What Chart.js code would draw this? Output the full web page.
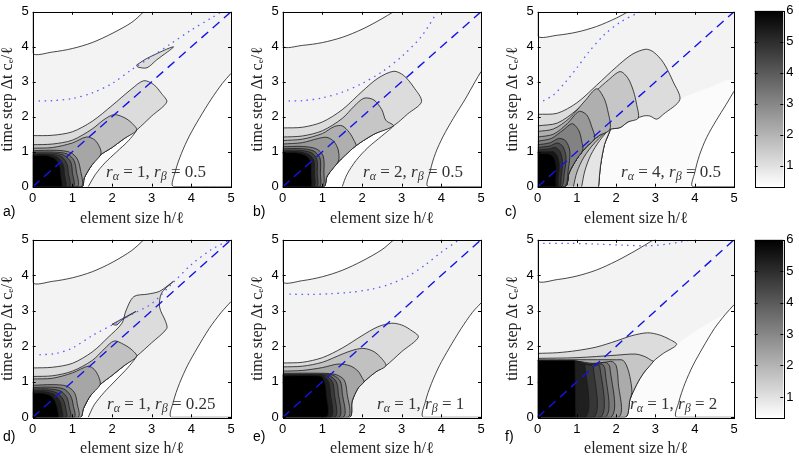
<!DOCTYPE html>
<html><head><meta charset="utf-8">
<script src="https://cdn.jsdelivr.net/npm/chart.js@4.4.1/dist/chart.umd.min.js"></script>
<style>
body{margin:0;background:#fff;}
#wrap{position:relative;width:799px;height:458px;overflow:hidden;}
canvas{position:absolute;}
.tag{position:absolute;font:14px 'Liberation Sans',Arial,sans-serif;color:#000;}
.note{position:absolute;font:17px 'Liberation Serif','Times New Roman',serif;color:#333;white-space:nowrap;}
.note sub{font-size:12px;vertical-align:-3px;line-height:0;}
</style></head>
<body><div id="wrap">
<canvas id="pa" width="241" height="228" style="left:0;top:0"></canvas>
<canvas id="pb" width="241" height="228" style="left:250px;top:0"></canvas>
<canvas id="pc" width="239" height="228" style="left:505px;top:0"></canvas>
<canvas id="cb1" width="49" height="228" style="left:750px;top:0"></canvas>
<canvas id="pd" width="241" height="230" style="left:0;top:228px"></canvas>
<canvas id="pe" width="241" height="230" style="left:250px;top:228px"></canvas>
<canvas id="pf" width="239" height="230" style="left:505px;top:228px"></canvas>
<canvas id="cb2" width="49" height="230" style="left:750px;top:228px"></canvas>

<div class="tag" style="left:3px;top:203px">a)</div>
<div class="tag" style="left:253px;top:203px">b)</div>
<div class="tag" style="left:505px;top:203px">c)</div>
<div class="tag" style="left:3px;top:428px">d)</div>
<div class="tag" style="left:253px;top:428px">e)</div>
<div class="tag" style="left:505px;top:428px">f)</div>

<div class="note" style="left:106px;top:162px"><i>r</i><sub><i>α</i></sub> = 1, <i>r</i><sub><i>β</i></sub> = 0.5</div>
<div class="note" style="left:363px;top:162px"><i>r</i><sub><i>α</i></sub> = 2, <i>r</i><sub><i>β</i></sub> = 0.5</div>
<div class="note" style="left:621px;top:162px"><i>r</i><sub><i>α</i></sub> = 4, <i>r</i><sub><i>β</i></sub> = 0.5</div>
<div class="note" style="left:107px;top:394px"><i>r</i><sub><i>α</i></sub> = 1, <i>r</i><sub><i>β</i></sub> = 0.25</div>
<div class="note" style="left:377px;top:394px"><i>r</i><sub><i>α</i></sub> = 1, <i>r</i><sub><i>β</i></sub> = 1</div>
<div class="note" style="left:630px;top:394px"><i>r</i><sub><i>α</i></sub> = 1, <i>r</i><sub><i>β</i></sub> = 2</div>
</div>
<script>
// colour scale
const cbMin = 0.33, cbMax = 6;
const cbTicks = [1, 2, 3, 4, 5, 6];
const axisTicks = [0, 1, 2, 3, 4, 5];

// shared shapes
const box = [[0,0],[0,5],[5,5],[5,0]];
const diagonal = [[0,0],[5,5]];

// a) r_alpha = 1, r_beta = 0.5
const aTop = [[0,5],[0,3.82],[0.5,3.85],[1,3.95],[1.5,4.12],[2,4.38],[2.5,4.7],[2.8,5]];
const aRight = [[5,0],[3.55,0],[3.6,0.45],[3.75,0.95],[3.95,1.45],[4.2,1.95],[4.5,2.5],[4.78,2.95],[5,3.24]];
const aCres = [[1.24,0],[1.3,0.25],[1.48,0.6],[1.7,0.9],[2,1.12],[2.3,1.37],[2.62,1.62],[2.42,1.32],[2.12,1],[1.82,0.68],[1.58,0.35],[1.44,0.08],[1.4,0]];
const aT1 = [[0,1.46],[0.5,1.47],[1,1.57],[1.5,1.87],[2,2.32],[2.5,2.8],[2.8,3.03],[3.05,2.92],[3.25,2.66],[3.38,2.42],[3,2.02],[2.62,1.62],[2.3,1.37],[2,1.12],[1.7,0.9],[1.48,0.6],[1.3,0.25],[1.24,0],[0,0]];
const aIsland = [[2.62,3.48],[2.9,3.68],[3.55,4],[3.12,3.62],[2.88,3.4],[2.65,3.42],[2.62,3.48]];
const aT2 = [[0,1.2],[0.5,1.22],[1,1.33],[1.5,1.65],[1.8,1.92],[2.05,2.06],[2.3,1.98],[2.5,1.82],[2.62,1.62],[2.3,1.37],[2,1.12],[1.7,0.9],[1.48,0.6],[1.3,0.25],[1.24,0],[0,0]];
const aT3 = [[0,1.1],[0.5,1.12],[1,1.25],[1.35,1.42],[1.55,1.35],[1.68,1.15],[1.72,0.93],[1.48,0.6],[1.3,0.25],[1.24,0],[0,0]];
const aC1 = [[0,1.03],[0.6,1.04],[0.95,0.98],[1.12,0.8],[1.2,0.5],[1.22,0],[0,0]];
const aC2 = [[0,0.99],[0.55,0.99],[0.88,0.93],[1.04,0.75],[1.1,0.45],[1.12,0],[0,0]];
const aC3 = [[0,0.96],[0.5,0.96],[0.8,0.89],[0.96,0.7],[1,0.4],[1.02,0],[0,0]];
const aC4 = [[0,0.93],[0.45,0.93],[0.72,0.86],[0.86,0.66],[0.9,0.38],[0.92,0],[0,0]];
const aC5 = [[0,0.91],[0.4,0.91],[0.64,0.83],[0.77,0.62],[0.8,0.35],[0.82,0],[0,0]];
const aC6 = [[0,0.89],[0.35,0.89],[0.56,0.8],[0.68,0.6],[0.71,0.3],[0.72,0],[0,0]];
const aDots = [[0.15,2.45],[0.5,2.46],[1,2.52],[1.5,2.68],[2,2.95],[2.5,3.35],[3,3.72],[3.5,4.1],[4,4.48],[4.5,4.82],[4.76,5]];
const aShapes = [box, aTop, aRight, aCres, aT1, aIsland, aT2, aT3, aC1, aC2, aC3, aC4, aC5, aC6];
const aLevels = [0.6, 0.33, 0.33, 0.33, 1.1, 1.1, 1.7, 2.3, 2.9, 3.5, 4.1, 4.7, 5.3, 6];

// b) r_alpha = 2, r_beta = 0.5
const bTop = [[0,5],[0,4.02],[0.5,4.04],[1,4.12],[1.5,4.27],[2,4.5],[2.5,4.8],[2.79,5]];
const bRight = [[5,0],[3.67,0],[3.72,0.45],[3.85,0.95],[4.05,1.45],[4.3,1.95],[4.6,2.5],[4.85,3],[5,3.29]];
const bCres = [[1.03,0],[1.12,0.3],[1.38,0.68],[1.8,1.13],[2.3,1.5],[2.79,1.74],[2.5,1.45],[2.15,1.12],[1.85,0.75],[1.62,0.35],[1.5,0]];
const bT1 = [[0,1.68],[0.5,1.7],[1,1.85],[1.5,2.2],[2,2.72],[2.4,3.1],[2.8,3.3],[3.05,3.18],[3.3,2.85],[3.5,2.43],[3.15,2.08],[2.79,1.74],[2.3,1.5],[1.8,1.13],[1.38,0.68],[1.12,0.3],[1.03,0],[0,0]];
const bT2 = [[0,1.42],[0.5,1.45],[1,1.6],[1.5,1.95],[1.8,2.3],[2.05,2.53],[2.3,2.48],[2.5,2.2],[2.6,1.9],[2.79,1.74],[2.3,1.5],[1.8,1.13],[1.38,0.68],[1.12,0.3],[1.03,0],[0,0]];
const bT3 = [[0,1.32],[0.5,1.36],[1,1.52],[1.3,1.72],[1.5,1.74],[1.68,1.55],[1.8,1.32],[1.85,1.18],[1.8,1.13],[1.38,0.68],[1.12,0.3],[1.03,0],[0,0]];
const bT4 = [[0,1.22],[0.5,1.26],[0.9,1.38],[1.12,1.41],[1.3,1.28],[1.4,1.05],[1.42,0.8],[1.38,0.68],[1.12,0.3],[1.03,0],[0,0]];
const bC1 = [[0,1.14],[0.5,1.15],[0.85,1.08],[1.02,0.88],[1.04,0.45],[0.99,0],[0,0]];
const bC2 = [[0,1.08],[0.45,1.09],[0.78,1.02],[0.94,0.82],[0.95,0.4],[0.92,0],[0,0]];
const bC3 = [[0,1.04],[0.42,1.04],[0.72,0.97],[0.86,0.78],[0.87,0.4],[0.85,0],[0,0]];
const bC4 = [[0,1],[0.4,1],[0.66,0.92],[0.79,0.74],[0.8,0.38],[0.78,0],[0,0]];
const bC5 = [[0,0.97],[0.35,0.97],[0.6,0.88],[0.71,0.7],[0.72,0.35],[0.7,0],[0,0]];
const bDots = [[0.15,2.45],[0.5,2.46],[1,2.54],[1.5,2.7],[2,2.95],[2.5,3.28],[3,3.72],[3.5,4.3],[3.9,5]];
const bShapes = [box, bTop, bRight, bCres, bT1, bT2, bT3, bT4, bC1, bC2, bC3, bC4, bC5];
const bLevels = [0.6, 0.33, 0.33, 0.33, 1.1, 1.6, 2.1, 2.6, 3.2, 3.9, 4.6, 5.3, 6];

// c) r_alpha = 4, r_beta = 0.5
const cTop = [[0,5],[0,4.3],[0.5,4.33],[1,4.42],[1.5,4.58],[2,4.82],[2.3,5]];
const cRight = [[5,0],[3.95,0],[4,0.4],[4.12,0.9],[4.3,1.4],[4.55,1.9],[4.8,2.35],[5,2.73]];
const cUnder = [[1.55,0],[1.6,0.6],[1.7,1.2],[1.84,1.64],[2.1,1.69],[2.3,1.85],[2.69,2.02],[2.86,2.02],[3.03,1.93],[3.2,2.07],[3.62,2.49],[4.3,2.8],[5,3],[5,0]];
const cK1 = [[0.7,0],[0.8,0.4],[1,0.8],[1.25,1.15],[1.55,1.45],[1.84,1.64],[1.7,1.2],[1.6,0.6],[1.55,0]];
const cK2 = [[0.91,0],[1,0.42],[1.18,0.85],[1.45,1.25],[1.84,1.64],[1.7,1.2],[1.6,0.6],[1.55,0]];
const cK3 = [[1.12,0],[1.2,0.45],[1.35,0.9],[1.58,1.32],[1.84,1.64],[1.7,1.2],[1.6,0.6],[1.55,0]];
const cT1 = [[0,2.07],[0.5,2.1],[1,2.4],[1.5,2.9],[2,3.42],[2.4,3.78],[2.75,3.93],[2.95,3.85],[3.2,3.55],[3.45,3],[3.62,2.49],[3.2,2.07],[3.03,1.93],[2.86,2.02],[2.69,2.02],[2.3,1.85],[2.1,1.69],[1.84,1.64],[1.55,1.45],[1.25,1.15],[1,0.8],[0.8,0.4],[0.7,0],[0,0]];
const cT2 = [[0,1.74],[0.5,1.82],[1,2.2],[1.5,2.75],[1.8,3.05],[2.1,3.29],[2.3,3.1],[2.44,2.73],[2.52,2.35],[2.56,1.96],[2.3,1.85],[2.1,1.69],[1.84,1.64],[1.55,1.45],[1.25,1.15],[1,0.8],[0.8,0.4],[0.7,0],[0,0]];
const cT3 = [[0,1.58],[0.4,1.65],[0.8,1.95],[1.2,2.45],[1.5,2.8],[1.68,2.55],[1.78,2.2],[1.84,1.64],[1.55,1.45],[1.25,1.15],[1,0.8],[0.8,0.4],[0.7,0],[0,0]];
const cT4 = [[0,1.42],[0.4,1.5],[0.75,1.8],[1.05,2.15],[1.25,2.05],[1.38,1.7],[1.45,1.38],[1.25,1.15],[1,0.8],[0.8,0.4],[0.7,0],[0,0]];
const cT5 = [[0,1.3],[0.35,1.38],[0.65,1.62],[0.88,1.8],[1.05,1.6],[1.12,1.3],[1.15,1.05],[1,0.8],[0.8,0.4],[0.7,0],[0,0]];
const cC1 = [[0,1.2],[0.3,1.25],[0.55,1.38],[0.72,1.3],[0.82,1],[0.78,0.5],[0.68,0],[0,0]];
const cC2 = [[0,1.12],[0.3,1.16],[0.5,1.25],[0.64,1.15],[0.72,0.85],[0.68,0.4],[0.6,0],[0,0]];
const cC3 = [[0,1.05],[0.28,1.08],[0.45,1.12],[0.57,1],[0.63,0.72],[0.6,0.3],[0.55,0],[0,0]];
const cC4 = [[0,1],[0.25,1],[0.4,1],[0.5,0.88],[0.55,0.6],[0.52,0.25],[0.5,0],[0,0]];
const cC5 = [[0,0.95],[0.22,0.95],[0.36,0.9],[0.44,0.76],[0.48,0.5],[0.46,0.2],[0.45,0],[0,0]];
const cDots = [[0.14,2.45],[0.4,2.62],[0.7,2.98],[1,3.4],[1.3,3.85],[1.7,4.35],[2.1,4.7],[2.6,5]];
const cShapes = [box, cUnder, cRight, cK1, cK2, cK3, cT1, cT2, cT3, cT4, cT5, cC1, cC2, cC3, cC4, cC5, cTop];
const cLevels = [0.6, 0.42, 0.33, 2.0, 1.4, 0.9, 1.1, 1.6, 2.1, 2.6, 3.1, 3.7, 4.3, 4.9, 5.5, 6, 0.33];

// d) r_alpha = 1, r_beta = 0.25
const dTop = [[0,5],[0,3.8],[0.5,3.83],[1,3.93],[1.5,4.1],[2,4.36],[2.5,4.7],[2.8,5]];
const dRight = [[5,0],[3.5,0],[3.55,0.45],[3.7,0.95],[3.9,1.45],[4.15,1.95],[4.45,2.5],[4.75,2.95],[5,3.26]];
const dCres = [[1.2,0],[1.28,0.25],[1.45,0.6],[1.7,0.92],[2,1.18],[2.3,1.45],[2.62,1.72],[2.4,1.4],[2.1,1.05],[1.8,0.7],[1.55,0.35],[1.42,0.05],[1.4,0]];
const dT1 = [[0,1.39],[0.5,1.41],[1,1.52],[1.5,1.84],[1.9,2.25],[2.25,2.65],[2.35,3],[2.55,3.4],[2.9,3.47],[3.2,3.55],[3.55,3.83],[3.25,3.5],[3.2,3.1],[3.35,2.7],[3.38,2.5],[3,2.1],[2.62,1.72],[2.3,1.45],[2,1.18],[1.7,0.92],[1.45,0.6],[1.28,0.25],[1.2,0],[0,0]];
const dIsland = [[2,2.62],[2.6,2.98],[2.25,2.74],[2.12,2.6],[2,2.62]];
const dT2 = [[0,1.15],[0.5,1.17],[1,1.3],[1.5,1.6],[1.8,1.92],[2.05,2.15],[2.3,2.05],[2.5,1.9],[2.62,1.72],[2.3,1.45],[2,1.18],[1.7,0.92],[1.45,0.6],[1.28,0.25],[1.2,0],[0,0]];
const dT3 = [[0,1.08],[0.5,1.1],[1,1.25],[1.4,1.44],[1.55,1.35],[1.66,1.15],[1.7,0.92],[1.45,0.6],[1.28,0.25],[1.2,0],[0,0]];
const dC1 = [[0,0.9],[0.5,0.92],[0.85,0.88],[1.05,0.7],[1.12,0.4],[1.14,0],[0,0]];
const dC2 = [[0,0.84],[0.45,0.85],[0.78,0.8],[0.95,0.62],[1.02,0.35],[1.04,0],[0,0]];
const dC3 = [[0,0.8],[0.4,0.8],[0.7,0.74],[0.86,0.56],[0.92,0.3],[0.94,0],[0,0]];
const dC4 = [[0,0.76],[0.35,0.76],[0.62,0.68],[0.77,0.5],[0.83,0.26],[0.84,0],[0,0]];
const dC5 = [[0,0.72],[0.3,0.72],[0.54,0.64],[0.68,0.46],[0.73,0.24],[0.74,0],[0,0]];
const dC6 = [[0,0.68],[0.25,0.68],[0.46,0.6],[0.58,0.42],[0.63,0.2],[0.64,0],[0,0]];
const dDots = [[0.17,1.76],[0.6,1.8],[1,1.95],[1.5,2.3],[2,2.6],[2.5,2.9],[3,3.2],[3.5,3.75],[4,4.3],[4.5,4.72],[4.97,5]];
const dShapes = [box, dTop, dRight, dCres, dT1, dIsland, dT2, dT3, dC1, dC2, dC3, dC4, dC5, dC6];
const dLevels = [0.6, 0.33, 0.33, 0.33, 1.1, 1.7, 1.7, 2.3, 2.9, 3.5, 4.1, 4.7, 5.3, 6];

// e) r_alpha = 1, r_beta = 1
const eTop = [[0,5],[0,3.82],[0.5,3.85],[1,3.96],[1.5,4.14],[2,4.4],[2.5,4.72],[2.8,5]];
const eRight = [[5,0],[3.55,0],[3.6,0.45],[3.75,0.95],[3.95,1.45],[4.2,1.95],[4.5,2.5],[4.78,2.95],[5,3.22]];
const eT1 = [[0,1.53],[0.5,1.55],[1,1.68],[1.5,1.95],[2,2.3],[2.4,2.55],[2.75,2.65],[3,2.6],[3.2,2.48],[3.42,2.26],[3,1.85],[2.6,1.45],[2.35,1.28],[2.1,1.05],[1.9,0.82],[1.75,0.45],[1.68,0],[0,0]];
const eT2 = [[0,1.42],[0.5,1.44],[1,1.55],[1.5,1.78],[1.8,1.9],[2.05,1.94],[2.3,1.85],[2.5,1.65],[2.6,1.45],[2.35,1.28],[2.1,1.05],[1.9,0.82],[1.75,0.45],[1.68,0],[0,0]];
const eT3 = [[0,1.3],[0.5,1.32],[1,1.4],[1.4,1.5],[1.7,1.45],[1.9,1.3],[2,1.12],[2.05,1],[1.9,0.82],[1.75,0.45],[1.68,0],[0,0]];
const eC1 = [[0,1.24],[1,1.24],[1.35,1.2],[1.55,1.05],[1.62,0.7],[1.64,0],[0,0]];
const eC2 = [[0,1.22],[1,1.22],[1.28,1.18],[1.45,1.02],[1.5,0.7],[1.52,0],[0,0]];
const eC3 = [[0,1.2],[1,1.2],[1.2,1.16],[1.35,1],[1.4,0.7],[1.41,0],[0,0]];
const eC4 = [[0,1.19],[1,1.19],[1.14,1.14],[1.26,0.98],[1.3,0.7],[1.31,0],[0,0]];
const eC5 = [[0,1.18],[0.95,1.18],[1.08,1.12],[1.17,0.96],[1.2,0.7],[1.21,0],[0,0]];
const eC6 = [[0,1.17],[0.9,1.17],[1,1.12],[1.07,0.95],[1.1,0.7],[1.1,0],[0,0]];
const eDots = [[0.17,3.47],[0.7,3.46],[1.2,3.48],[1.7,3.52],[2.2,3.6],[2.7,3.75],[3.2,4],[3.6,4.3],[4,4.65],[4.45,5]];
const eShapes = [box, eTop, eRight, eT1, eT2, eT3, eC1, eC2, eC3, eC4, eC5, eC6];
const eLevels = [0.6, 0.33, 0.33, 1.1, 1.7, 2.3, 2.9, 3.5, 4.1, 4.7, 5.3, 6];

// f) r_alpha = 1, r_beta = 2
const fTop = [[0,5],[0,3.85],[0.5,3.88],[1,3.98],[1.5,4.15],[2,4.4],[2.5,4.7],[2.95,5]];
const fRight = [[5,0],[3.54,0],[3.6,0.45],[3.75,0.95],[3.95,1.45],[4.2,1.95],[4.5,2.5],[4.78,2.9],[5,3.17]];
const fUnder = [[2.22,0],[2.35,0.5],[2.52,0.92],[2.7,1.25],[2.95,1.58],[3.2,1.8],[3.54,2.05],[4.2,2.55],[5,2.9],[5,0]];
const fT1 = [[0,1.8],[0.5,1.82],[1,1.88],[1.5,1.98],[2,2.15],[2.4,2.3],[2.8,2.38],[3.1,2.32],[3.35,2.2],[3.54,2.05],[3.2,1.8],[2.95,1.58],[2.7,1.25],[2.52,0.92],[2.35,0.5],[2.22,0],[0,0]];
const fT2 = [[0,1.66],[1,1.68],[2,1.75],[2.5,1.78],[2.75,1.7],[2.9,1.6],[2.95,1.58],[2.7,1.25],[2.52,0.92],[2.35,0.5],[2.22,0],[0,0]];
const fT3 = [[0,1.62],[2,1.62],[2.18,1.6],[2.3,1.35],[2.38,0.95],[2.4,0.7],[2.35,0.5],[2.22,0],[0,0]];
const fC1 = [[0,1.6],[1,1.58],[1.4,1.52],[1.7,1.55],[1.9,1.57],[2,1.45],[2.05,1],[2.05,0],[0,0]];
const fC2 = [[0,1.6],[1,1.58],[1.3,1.5],[1.55,1.52],[1.75,1.54],[1.84,1.4],[1.86,0],[0,0]];
const fC3 = [[0,1.6],[1,1.58],[1.25,1.5],[1.5,1.5],[1.66,1.48],[1.72,1.3],[1.72,0],[0,0]];
const fC4 = [[0,1.6],[1,1.57],[1.2,1.5],[1.45,1.48],[1.58,1.44],[1.6,0],[0,0]];
const fC5 = [[0,1.6],[1,1.57],[1.15,1.5],[1.35,1.47],[1.42,1.4],[1.43,0],[0,0]];
const fC6 = [[0,1.6],[1,1.57],[1.1,1.5],[1.2,1.47],[1.22,0],[0,0]];
const fC7 = [[0,1.6],[0.95,1.6],[0.97,0],[0,0]];
const fDots = [[0.14,4.9],[0.8,4.9],[1.5,4.88],[2.2,4.85],[2.8,4.83],[3.3,4.88],[3.7,4.95],[3.9,5]];
const fShapes = [box, fUnder, fRight, fT1, fT2, fT3, fC1, fC2, fC3, fC4, fC5, fC6, fC7, fTop];
const fLevels = [0.6, 0.42, 0.33, 1.1, 1.6, 2.2, 2.8, 3.3, 3.8, 4.3, 4.8, 5.3, 6, 0.33];

// regions drawn without an outline, and regions with straight edges
const unstroked = [box, cUnder, fUnder];
const straight = [box, fC7];

const sans = "'Liberation Sans', Arial, sans-serif";
const serif = "'Liberation Serif', 'DejaVu Serif', serif";

function gray(v) {
  let g = Math.round(255 * (1 - (v - cbMin) / (cbMax - cbMin)));
  g = Math.max(0, Math.min(255, g));
  return `rgb(${g},${g},${g})`;
}
const toXY = pts => pts.map(([x, y]) => ({x, y}));

// box around the plot with small inward ticks on every side
const frame = {
  id: 'frame',
  afterDatasetsDraw(chart) {
    const {ctx, chartArea: a, scales} = chart;
    ctx.save();
    ctx.strokeStyle = '#000';
    ctx.lineWidth = 1;
    const seg = (x1, y1, x2, y2) => { ctx.beginPath(); ctx.moveTo(x1, y1); ctx.lineTo(x2, y2); ctx.stroke(); };
    if (scales.x && scales.x.options.display !== false) {
      scales.x.ticks.forEach(t => {
        const px = Math.round(scales.x.getPixelForValue(t.value)) + 0.5;
        seg(px, a.bottom, px, a.bottom - 3);
        seg(px, a.top, px, a.top + 3);
      });
    }
    scales.y.ticks.forEach(t => {
      const py = Math.round(scales.y.getPixelForValue(t.value)) + 0.5;
      seg(a.left, py, a.left + 3, py);
      seg(a.right, py, a.right - 3, py);
    });
    ctx.strokeRect(Math.round(a.left) + 0.5, Math.round(a.top) + 0.5, Math.round(a.width), Math.round(a.height));
    ctx.restore();
  }
};

function makePanel(id, shapes, levels, dots, top) {
  const datasets = shapes.map((s, i) => ({
    data: toXY(s),
    showLine: true,
    fill: 'shape',
    backgroundColor: gray(levels[i]),
    borderColor: unstroked.includes(s) ? 'rgba(0,0,0,0)' : '#1a1a1a',
    borderWidth: unstroked.includes(s) ? 0 : 0.8,
    tension: straight.includes(s) ? 0 : 0.3,
    pointRadius: 0,
    order: -i
  }));
  datasets.push({
    data: toXY(dots), showLine: true, fill: false, borderColor: '#5a5aff',
    borderWidth: 1.3, borderDash: [1.5, 4.5], tension: 0.3, pointRadius: 0, order: -100
  });
  datasets.push({
    data: toXY(diagonal), showLine: true, fill: false, borderColor: '#1414e6',
    borderWidth: 1.4, borderDash: [9, 6], pointRadius: 0, order: -101
  });
  const bottomH = top ? 41.3 : 40.7;
  new Chart(document.getElementById(id), {
    type: 'scatter',
    data: {datasets},
    options: {
      responsive: false, animation: false, devicePixelRatio: 1,
      layout: {padding: {top: top ? 9.5 : 11.7, right: 10, left: 0, bottom: 0}},
      plugins: {legend: {display: false}, tooltip: {enabled: false}},
      scales: {
        x: {
          type: 'linear', min: 0, max: 5,
          afterBuildTicks: s => { s.ticks = axisTicks.map(v => ({value: v})); },
          ticks: {font: {family: sans, size: 13}, color: '#000', padding: 4, maxRotation: 0},
          grid: {display: false, drawTicks: false}, border: {display: false},
          title: {display: true, text: 'element size h/ℓ', font: {family: serif, size: 16, lineHeight: 1.2}, color: '#222', padding: 0},
          afterFit: s => { s.height = bottomH; }
        },
        y: {
          type: 'linear', min: 0, max: 5,
          afterBuildTicks: s => { s.ticks = axisTicks.map(v => ({value: v})); },
          ticks: {font: {family: sans, size: 13}, color: '#000', padding: 4},
          grid: {display: false, drawTicks: false}, border: {display: false},
          title: {display: true, text: 'time step Δt cₑ/ℓ', font: {family: serif, size: 16, lineHeight: 1}, color: '#222', padding: 0},
          afterFit: s => { s.width = 32.7; }
        }
      }
    },
    plugins: [frame]
  });
}

function makeColorbar(id, top) {
  new Chart(document.getElementById(id), {
    type: 'bar',
    data: {
      labels: [''],
      datasets: [{
        data: [[cbMin, cbMax]],
        barPercentage: 1, categoryPercentage: 1, borderWidth: 0,
        backgroundColor: c => {
          const ch = c.chart;
          if (!ch.chartArea) return '#888';
          const y = ch.scales.y;
          const g = ch.ctx.createLinearGradient(0, y.getPixelForValue(cbMin), 0, y.getPixelForValue(cbMax));
          g.addColorStop(0, '#ffffff');
          g.addColorStop(1, '#000000');
          return g;
        }
      }]
    },
    options: {
      responsive: false, animation: false, devicePixelRatio: 1,
      layout: {padding: {top: top ? 9.5 : 11.7, bottom: top ? 41.3 : 40, left: 4.7, right: 0}},
      plugins: {legend: {display: false}, tooltip: {enabled: false}},
      scales: {
        x: {display: false},
        y: {
          position: 'right', min: cbMin, max: cbMax,
          afterBuildTicks: s => { s.ticks = cbTicks.map(v => ({value: v})); },
          ticks: {font: {family: sans, size: 13}, color: '#000', padding: 3},
          grid: {display: false, drawTicks: false}, border: {display: false},
          afterFit: s => { s.width = 15.7; }
        }
      }
    },
    plugins: [frame]
  });
}

makePanel('pa', aShapes, aLevels, aDots, true);
makePanel('pb', bShapes, bLevels, bDots, true);
makePanel('pc', cShapes, cLevels, cDots, true);
makePanel('pd', dShapes, dLevels, dDots, false);
makePanel('pe', eShapes, eLevels, eDots, false);
makePanel('pf', fShapes, fLevels, fDots, false);
makeColorbar('cb1', true);
makeColorbar('cb2', false);
</script>
</body></html>
